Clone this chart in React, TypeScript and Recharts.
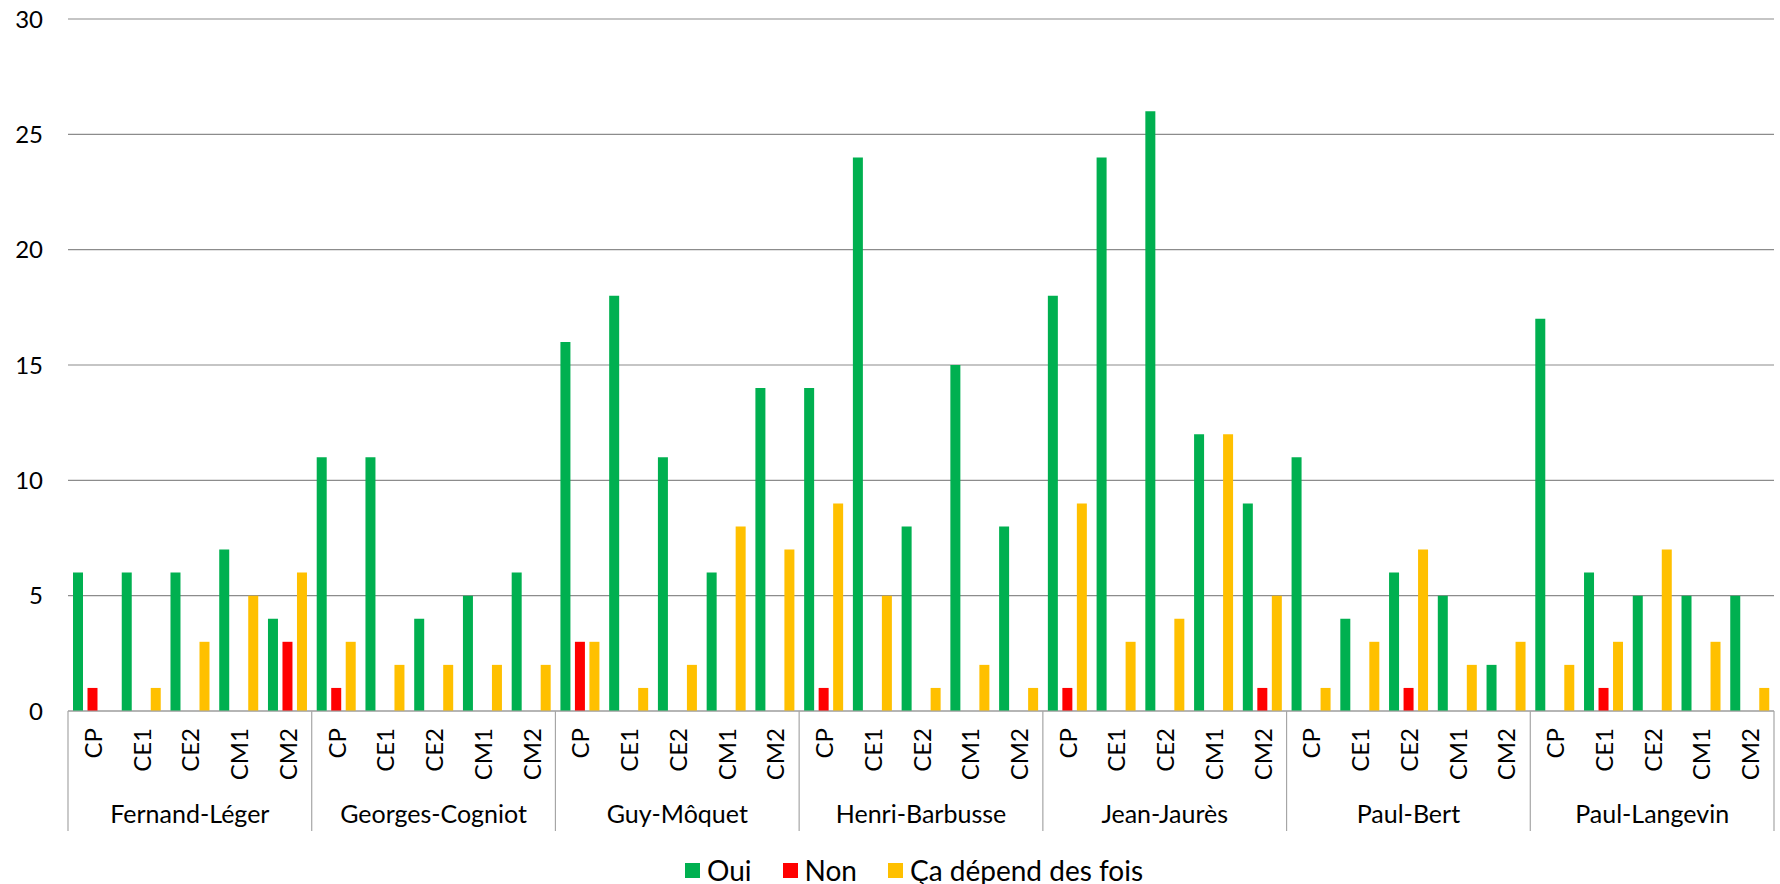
import React from "react";
import { BarChart, Bar, XAxis, YAxis, CartesianGrid, Legend } from "recharts";

const schools = [
  "Fernand-Léger",
  "Georges-Cogniot",
  "Guy-Môquet",
  "Henri-Barbusse",
  "Jean-Jaurès",
  "Paul-Bert",
  "Paul-Langevin",
];
const classes = ["CP", "CE1", "CE2", "CM1", "CM2"];

// values per school, in class order CP, CE1, CE2, CM1, CM2
const oui = [
  [6, 6, 6, 7, 4],
  [11, 11, 4, 5, 6],
  [16, 18, 11, 6, 14],
  [14, 24, 8, 15, 8],
  [18, 24, 26, 12, 9],
  [11, 4, 6, 5, 2],
  [17, 6, 5, 5, 5],
];
const non = [
  [1, 0, 0, 0, 3],
  [1, 0, 0, 0, 0],
  [3, 0, 0, 0, 0],
  [1, 0, 0, 0, 0],
  [1, 0, 0, 0, 1],
  [0, 0, 1, 0, 0],
  [0, 1, 0, 0, 0],
];
const depend = [
  [0, 1, 3, 5, 6],
  [3, 2, 2, 2, 2],
  [3, 1, 2, 8, 7],
  [9, 5, 1, 2, 1],
  [9, 3, 4, 12, 5],
  [1, 3, 7, 2, 3],
  [2, 3, 7, 3, 1],
];
const yTicks = [0, 5, 10, 15, 20, 25, 30];
const seriesOrder = ["Oui", "Non", "Ça dépend des fois"];

const rows = schools.flatMap((school, s) =>
  classes.map((cls, c) => ({
    id: `${school}|${cls}`,
    school,
    cls,
    oui: oui[s][c],
    non: non[s][c],
    ca: depend[s][c],
  }))
);

const FONT = "Lato, 'Open Sans', sans-serif";
const SEP = "#a6a6a6";

const CategoryTick = (props: any) => {
  const { x, y, payload } = props;
  const i = payload?.index ?? props.index ?? 0;
  const row = rows[i];
  const half = payload?.offset || 24.37;
  if (!row) return null;
  return (
    <g>
      <text
        transform={`translate(${x},${y + 17}) rotate(-90)`}
        textAnchor="end"
        dominantBaseline="central"
        fontSize={24}
        fontFamily={FONT}
        fill="#000"
      >
        {row.cls}
      </text>
      {i % 5 === 0 && (
        <line x1={x - half} x2={x - half} y1={y} y2={y + 120} stroke={SEP} strokeWidth={1.2} />
      )}
      {i === rows.length - 1 && (
        <line x1={x + half} x2={x + half} y1={y} y2={y + 120} stroke={SEP} strokeWidth={1.2} />
      )}
      {i % 5 === 2 && (
        <text x={x} y={y + 112} textAnchor="middle" fontSize={25} fontFamily={FONT} fill="#000">
          {row.school}
        </text>
      )}
    </g>
  );
};

const LegendContent = (props: any) => {
  const items = [...(props.payload || [])].sort(
    (a: any, b: any) => seriesOrder.indexOf(a.value) - seriesOrder.indexOf(b.value)
  );
  return (
    <div style={{ display: "flex", alignItems: "center", height: 30, fontFamily: FONT, fontSize: 28, whiteSpace: "nowrap" }}>
      {items.map((p: any, k: number) => (
        <div key={k} style={{ display: "flex", alignItems: "center", marginRight: 31 }}>
          <span style={{ display: "inline-block", width: 15, height: 15, background: p.color, marginRight: 7 }} />
          <span style={{ color: "#000" }}>{p.value}</span>
        </div>
      ))}
    </div>
  );
};

export default function App() {
  return (
    <div style={{ position: "absolute", left: 0, top: 0, fontFamily: FONT }}>
      <BarChart
        width={1780}
        height={884}
        data={rows}
        margin={{ top: 19, right: 6, left: 0, bottom: 33 }}
        barSize={10}
        barGap={4.5}
      >
        <CartesianGrid vertical={false} stroke="#8c8c8c" strokeWidth={1.2} />
        <XAxis
          dataKey="id"
          interval={0}
          tickLine={false}
          tickSize={0}
          tickMargin={0}
          height={140}
          axisLine={{ stroke: SEP, strokeWidth: 1.2 }}
          tick={<CategoryTick />}
        />
        <YAxis
          type="number"
          domain={[0, 30]}
          ticks={yTicks}
          width={68}
          axisLine={false}
          tickLine={false}
          tickSize={0}
          tickMargin={25}
          tick={{ fontSize: 24, fontFamily: FONT, fill: "#000" }}
        />
        <Legend
          layout="horizontal"
          verticalAlign="middle"
          align="center"
          content={<LegendContent />}
          wrapperStyle={{ top: 855, left: 685, width: "auto", height: 30 }}
        />
        <Bar dataKey="oui" name={seriesOrder[0]} fill="#00B050" isAnimationActive={false} />
        <Bar dataKey="non" name={seriesOrder[1]} fill="#FF0000" isAnimationActive={false} />
        <Bar dataKey="ca" name={seriesOrder[2]} fill="#FFC000" isAnimationActive={false} />
      </BarChart>
    </div>
  );
}
